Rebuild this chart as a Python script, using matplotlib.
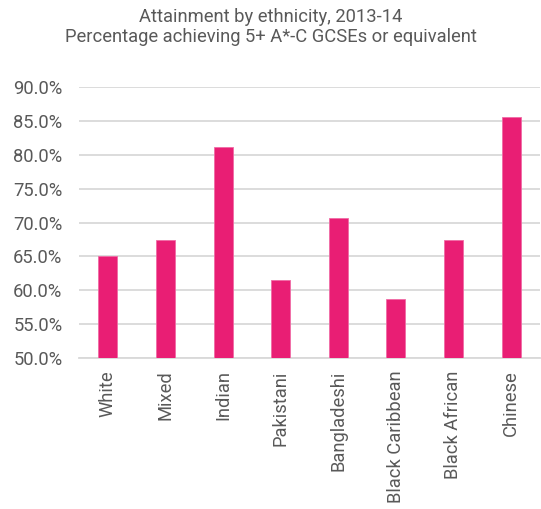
import matplotlib.pyplot as plt
from matplotlib.ticker import FuncFormatter

categories = ['White', 'Mixed', 'Indian', 'Pakistani', 'Bangladeshi',
              'Black Caribbean', 'Black African', 'Chinese']
values = [65.1, 67.4, 81.2, 61.5, 70.6, 58.7, 67.4, 85.6]
yticks = [50, 55, 60, 65, 70, 75, 80, 85, 90]

plt.rcParams['font.family'] = ['Roboto', 'DejaVu Sans']
text_col = '#595959'
grid_col = '#d9d9d9'

fig = plt.figure(figsize=(5.41, 5.09), dpi=100)
ax = fig.add_axes([0.146, 0.2967, 0.852, 0.5323])

x = range(len(categories))
ax.bar(x, values, width=0.33, color='#E91E74', edgecolor='#F06BA5', linewidth=0.6, zorder=3)

ax.set_ylim(50, 90)
ax.set_xlim(-0.5, len(categories) - 0.5)
ax.set_yticks(yticks)
ax.yaxis.set_major_formatter(FuncFormatter(lambda v, p: f'{v:.1f}%'))
ax.set_xticks(list(x))
ax.set_xticklabels(categories, rotation=90)

ax.grid(axis='y', color=grid_col, linewidth=1.3, zorder=0)
for s in ['top', 'right', 'left']:
    ax.spines[s].set_visible(False)
ax.spines['bottom'].set_color(grid_col)
ax.spines['bottom'].set_linewidth(1.3)
ax.tick_params(axis='both', length=0, labelsize=13.2, colors=text_col)
ax.tick_params(axis='x', pad=9)
ax.tick_params(axis='y', pad=12)

fig.text(0.5, 0.985, 'Attainment by ethnicity, 2013-14\nPercentage achieving 5+ A*-C GCSEs or equivalent',
         ha='center', va='top', fontsize=13.2, color=text_col, linespacing=1.2)

fig.savefig('out.png', dpi=100)
